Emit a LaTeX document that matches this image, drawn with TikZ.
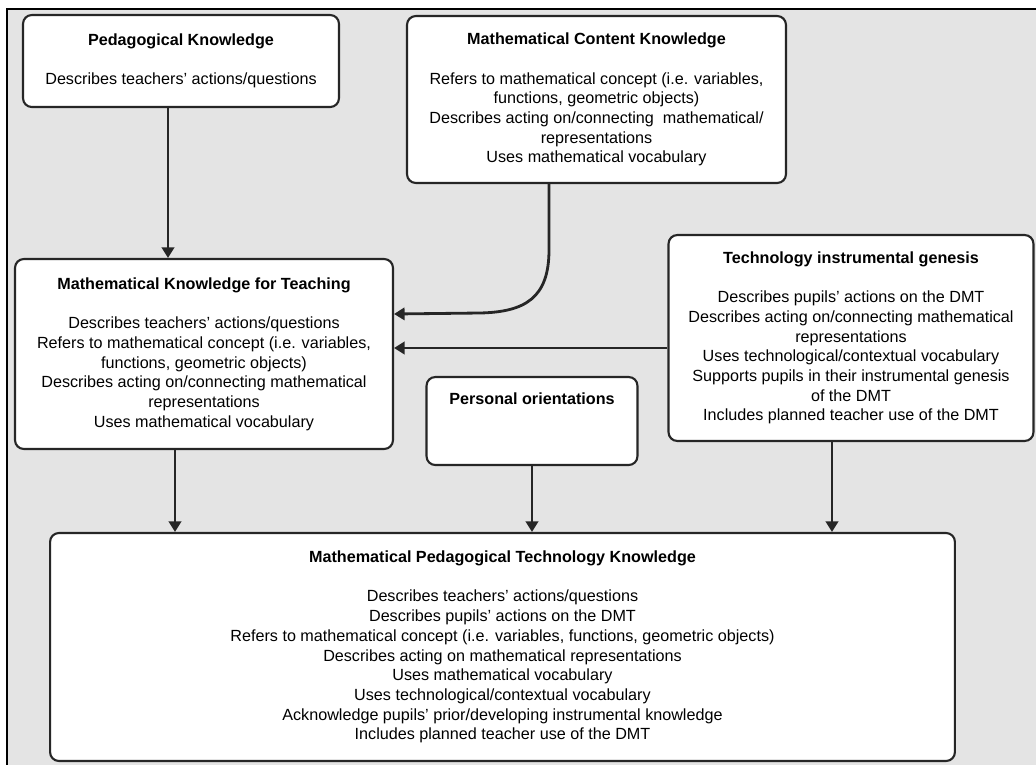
\documentclass[tikz,border=0pt]{standalone}
\usepackage{fontspec}
\setmainfont{Liberation Sans}
\usetikzlibrary{arrows.meta}
\definecolor{bgGray}{RGB}{228,228,228}
\definecolor{lineGray}{RGB}{38,38,38}
\newcommand{\boxFont}{\fontsize{9.2}{11.2}\selectfont}
\newcommand{\titleGap}{\\[11.2pt]}

\begin{document}
\begin{tikzpicture}[x=0.02cm, y=-0.02cm,
   box/.style={draw=lineGray, line width=1.2pt, rounded corners=5pt, fill=white,
      align=center, font=\boxFont, inner sep=0pt},
   arr/.style={-{Triangle[length=6pt,width=7pt]}, line width=1.6pt, draw=lineGray}]
         \useasboundingbox (0,0) rectangle (1036,765);
         \draw [fill=bgGray, line width=0.8pt] (7,9) rectangle (1050,780);

         \node [box, minimum width=6.32cm, minimum height=1.84cm] (pk) at (181,61)
            {\textbf{Pedagogical Knowledge}\titleGap
             Describes teachers' actions/questions};
         \node [box, minimum width=7.58cm, minimum height=3.34cm] (mck) at (596.5,99.5)
            {\textbf{Mathematical Content Knowledge}\titleGap
             Refers to mathematical concept (i.e. variables,\\
             functions, geometric objects)\\
             Describes acting on/connecting\ \ mathematical/\\
             representations\\
             Uses mathematical vocabulary};
         \node [box, minimum width=7.56cm, minimum height=3.8cm] (mkt) at (204,354)
            {\textbf{Mathematical Knowledge for Teaching}\titleGap
             Describes teachers' actions/questions\\
             Refers to mathematical concept (i.e. variables,\\
             functions, geometric objects)\\
             Describes acting on/connecting mathematical\\
             representations\\
             Uses mathematical vocabulary};
         \node [box, minimum width=4.22cm, minimum height=1.76cm] (po) at (532,421)
            {\textbf{Personal orientations}\\[14pt]\mbox{}};
         \node [box, minimum width=7.3cm, minimum height=4.12cm] (tig) at (851,338)
            {\textbf{Technology instrumental genesis}\titleGap
             Describes pupils' actions on the DMT\\
             Describes acting on/connecting mathematical\\
             representations\\
             Uses technological/contextual vocabulary\\
             Supports pupils in their instrumental genesis\\
             of the DMT\\
             Includes planned teacher use of the DMT};
         \node [box, minimum width=18.1cm, minimum height=4.56cm] (mptk) at (502.5,647)
            {\textbf{Mathematical Pedagogical Technology Knowledge}\titleGap
             Describes teachers' actions/questions\\
             Describes pupils' actions on the DMT\\
             Refers to mathematical concept (i.e. variables, functions, geometric objects)\\
             Describes acting on mathematical representations\\
             Uses mathematical vocabulary\\
             Uses technological/contextual vocabulary\\
             Acknowledge pupils' prior/developing instrumental knowledge\\
             Includes planned teacher use of the DMT};

         \draw [arr] (pk.south -| 168,0) -- (mkt.north -| 168,0);
         \draw [arr] (mck.south -| 549,0) -- (549,250)
            .. controls (549,298) and (525,312) .. (480,313) -- (mkt.east |- 0,314);
         \draw [arr] (tig.west |- 0,348) -- (mkt.east |- 0,348);

         \draw [arr] (mkt.south -| 175,0) -- (mptk.north -| 175,0);
         \draw [arr] (po.south) -- (po.south |- mptk.north);
         \draw [arr] (tig.south -| 832,0) -- (mptk.north -| 832,0);
      \end{tikzpicture}
\end{document}
